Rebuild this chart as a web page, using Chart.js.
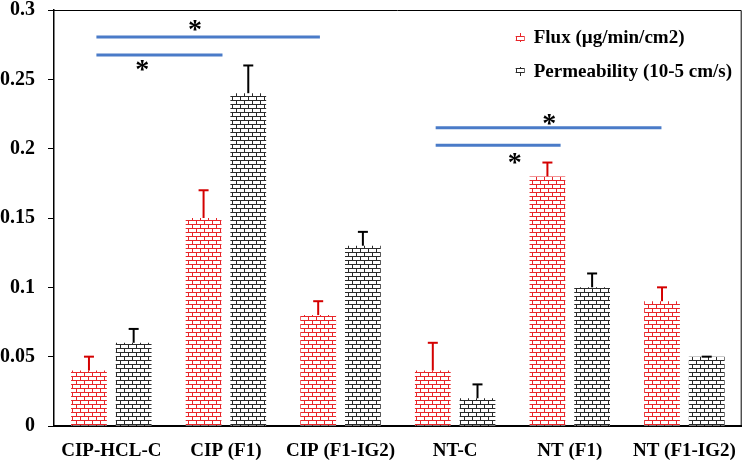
<!DOCTYPE html>
<html>
<head>
<meta charset="utf-8">
<script src="https://cdn.jsdelivr.net/npm/chart.js@4.4.1/dist/chart.umd.min.js"></script>
<style>
  html, body { margin: 0; padding: 0; background: #fff; }
  #wrap { width: 750px; height: 462px; position: relative; }
</style>
</head>
<body>
<div id="wrap"><canvas id="fluxChart"></canvas></div>
<script>
// --- data ---
const categories = ["CIP-HCL-C", "CIP (F1)", "CIP (F1-IG2)", "NT-C", "NT (F1)", "NT (F1-IG2)"];
const fluxValues = [0.04, 0.15, 0.08, 0.04, 0.18, 0.09];
const fluxErrors = [0.01, 0.02, 0.01, 0.02, 0.01, 0.01];
const permValues = [0.06, 0.24, 0.13, 0.02, 0.10, 0.05];
const permErrors = [0.01, 0.02, 0.01, 0.01, 0.01, 0.0];
const yTickLabels = ["0", "0.05", "0.1", "0.15", "0.2", "0.25", "0.3"];
const seriesNames = ["Flux (\u00b5g/min/cm2)", "Permeability (10-5 cm/s)"];

// significance brackets: [fromIndex, toIndex, yValue]
const sigLines = [
  [-0.13, 1.82, 0.2805],
  [-0.13, 0.97, 0.2675],
  [2.83, 4.80, 0.2150],
  [2.83, 3.92, 0.2025],
];
// asterisks: [index, yValue]
const sigStars = [
  [0.73, 0.2880],
  [0.27, 0.2593],
  [3.82, 0.2203],
  [3.52, 0.1922],
];

const FONT = "'Liberation Serif', 'Times New Roman', serif";

// --- brick fill patterns ---
function makeBrick(color) {
  const c = document.createElement("canvas");
  c.width = 8;
  c.height = 8;
  const g = c.getContext("2d");
  g.fillStyle = "#fff";
  g.fillRect(0, 0, 8, 8);
  g.fillStyle = color;
  g.fillRect(0, 0, 8, 1);
  g.fillRect(0, 4, 8, 1);
  g.fillRect(0, 0, 1, 4);
  g.fillRect(4, 4, 1, 4);
  return g.createPattern(c, "repeat");
}
const fluxFill = makeBrick("#e8262a");
const permFill = makeBrick("#2a2a2a");

// --- error bars (upward only) ---
const errorBarPlugin = {
  id: "errorBars",
  afterDatasetsDraw(chart) {
    const ctx = chart.ctx;
    const y = chart.scales.y;
    const sets = [
      { errs: fluxErrors, vals: fluxValues, color: "#d40000" },
      { errs: permErrors, vals: permValues, color: "#000" },
    ];
    ctx.save();
    sets.forEach((s, di) => {
      const meta = chart.getDatasetMeta(di);
      meta.data.forEach((bar, i) => {
        const top = y.getPixelForValue(s.vals[i] + s.errs[i]);
        ctx.strokeStyle = s.color;
        ctx.lineWidth = 2;
        ctx.beginPath();
        ctx.moveTo(bar.x, bar.y);
        ctx.lineTo(bar.x, top);
        ctx.stroke();
        ctx.beginPath();
        ctx.moveTo(bar.x - 5, top);
        ctx.lineTo(bar.x + 5, top);
        ctx.stroke();
      });
    });
    ctx.restore();
  },
};

// --- significance lines, stars, box and legend ---
const extrasPlugin = {
  id: "extras",
  afterDraw(chart) {
    const ctx = chart.ctx;
    const xs = chart.scales.x;
    const ys = chart.scales.y;
    const area = chart.chartArea;
    ctx.save();

    // frame on top and right
    ctx.strokeStyle = "#000";
    ctx.lineWidth = 1;
    ctx.beginPath();
    ctx.moveTo(area.left, area.top + 0.5);
    ctx.lineTo(area.right - 0.5, area.top + 0.5);
    ctx.lineTo(area.right - 0.5, area.bottom);
    ctx.stroke();

    ctx.strokeStyle = "#4a7bc8";
    ctx.lineWidth = 3;
    sigLines.forEach(([a, b, v]) => {
      const py = ys.getPixelForValue(v);
      ctx.beginPath();
      ctx.moveTo(xs.getPixelForValue(a), py);
      ctx.lineTo(xs.getPixelForValue(b), py);
      ctx.stroke();
    });

    ctx.fillStyle = "#000";
    ctx.font = "bold 28px " + FONT;
    ctx.textAlign = "center";
    ctx.textBaseline = "middle";
    sigStars.forEach(([i, v]) => {
      ctx.fillText("*", xs.getPixelForValue(i), ys.getPixelForValue(v) + 4);
    });

    // legend
    const fills = [fluxFill, permFill];
    ctx.font = "bold 19px " + FONT;
    ctx.textAlign = "left";
    seriesNames.forEach((name, k) => {
      const cy = area.top + 28 + k * 34;
      const bx = area.right - 226;
      ctx.fillStyle = fills[k];
      ctx.fillRect(bx, cy - 5, 9, 9);
      ctx.fillStyle = "#000";
      ctx.fillText(name, bx + 18, cy);
    });
    ctx.restore();
  },
};

new Chart(document.getElementById("fluxChart"), {
  type: "bar",
  data: {
    labels: categories,
    datasets: [
      { label: seriesNames[0], data: fluxValues, backgroundColor: fluxFill, borderWidth: 0 },
      { label: seriesNames[1], data: permValues, backgroundColor: permFill, borderWidth: 0 },
    ],
  },
  options: {
    responsive: true,
    maintainAspectRatio: false,
    animation: false,
    layout: { padding: { top: 10, right: 2, left: 0, bottom: 0 } },
    datasets: { bar: { categoryPercentage: 0.78, barPercentage: 0.8 } },
    plugins: { legend: { display: false }, tooltip: { enabled: false } },
    scales: {
      x: {
        grid: { display: false, drawTicks: false },
        border: { display: true, color: "#000", width: 2 },
        ticks: { color: "#000", padding: 14, maxRotation: 0, font: { family: FONT, size: 19, weight: "bold" } },
        afterFit(scale) { scale.height = 36; },
      },
      y: {
        min: 0,
        max: 0.3,
        grid: { display: true, drawOnChartArea: false, drawTicks: true, tickLength: 6, color: "#000" },
        border: { display: true, color: "#000", width: 1.5 },
        ticks: {
          stepSize: 0.05,
          color: "#000",
          padding: 13,
          font: { family: FONT, size: 20, weight: "bold", lineHeight: 1 },
          callback: (v, i) => yTickLabels[i],
        },
        afterFit(scale) {
          scale.width = 54;
          scale.paddingTop = 0;
          scale.paddingBottom = 0;
        },
      },
    },
  },
  plugins: [errorBarPlugin, extrasPlugin],
});
</script>
</body>
</html>
